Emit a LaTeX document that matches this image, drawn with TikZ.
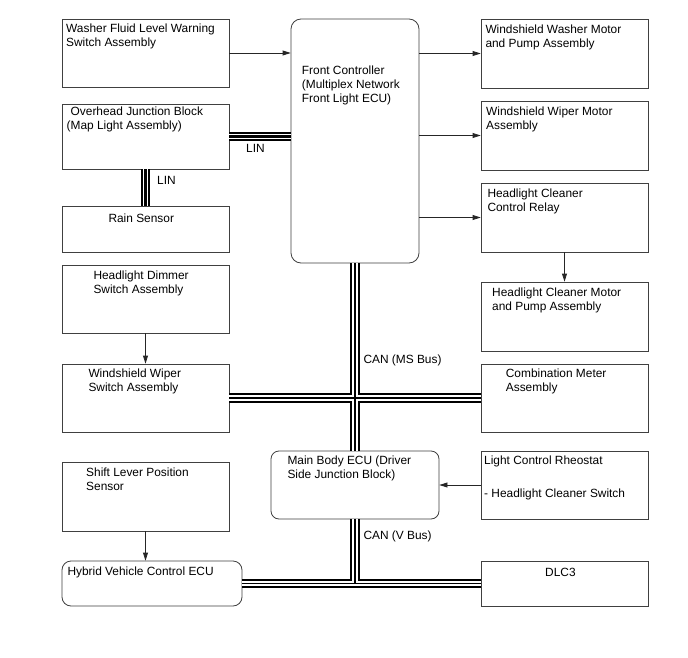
\documentclass[tikz,border=0pt]{standalone}
\usepackage{fontspec}
\setmainfont{Liberation Sans}
\usetikzlibrary{arrows.meta}
\newcommand\mkbox[6]{\node[box,#6,minimum width={(#4-#2)*1pt},minimum height={(#5-#3)*1pt}] (#1) at ({(#2+#4)/2},{(#3+#5)/2}) {};}
\newcommand\canbus[1]{\draw[line width=9.5pt] #1; \draw[white,line width=5.5pt] #1; \draw[line width=1.3pt] #1;}
\newcommand\linbus[1]{\draw[line width=9.5pt] #1; \draw[white,line width=5.5pt] #1; \draw[line width=3pt] #1;}
\begin{document}
\begin{tikzpicture}[x=1pt,y=-1pt,
  box/.style={draw=black!75,line width=0.8pt,inner sep=0pt},
  rbox/.style={rounded corners=#1},
  txt/.style={anchor=north west,inner sep=0pt,align=left,font=\fontsize{11.9}{14}\selectfont},
  arr/.style={draw=black!85,line width=0.8pt,-{Triangle[length=8pt,width=5pt]}}]
\fill[white] (0,0) rectangle (688,658);
\useasboundingbox (0,0) rectangle (688,658);
% boxes
\mkbox{wfl}{62}{19}{229}{87}{}
\mkbox{ojb}{62}{104}{229}{169}{}
\mkbox{rain}{62}{206}{229}{252}{}
\mkbox{dim}{62}{265}{229}{333}{}
\mkbox{wsw}{62}{364}{229}{432}{}
\mkbox{slp}{62}{462}{229}{531}{}
\mkbox{hv}{62}{561}{242}{606}{rbox=9pt}
\mkbox{fc}{291}{19}{419}{263}{rbox=10pt}
\mkbox{wwm}{481}{19}{648}{88}{}
\mkbox{wpm}{481}{101}{648}{170}{}
\mkbox{hcr}{481}{183}{648}{252}{}
\mkbox{hcm}{481}{282}{648}{351}{}
\mkbox{cmb}{481}{364}{648}{432}{}
\mkbox{lcr}{481}{451}{648}{519}{}
\mkbox{dlc}{481}{561}{648}{606}{}
\mkbox{mb}{271}{451}{439}{519}{rbox=8pt}
% texts
\node[txt] (twfl) at (66,22.8) {\strut Washer Fluid Level Warning\\Switch Assembly};
\node[txt] (tojb) at (66.5,105.2) {\strut\hspace*{4pt}Overhead Junction Block\\(Map Light Assembly)};
\node[txt] (train) at (108.3,212.8) {\strut Rain Sensor};
\node[txt] (tdim) at (93.3,269.5) {\strut Headlight Dimmer\\Switch Assembly};
\node[txt] (twsw) at (88.3,367.8) {\strut Windshield Wiper\\Switch Assembly};
\node[txt] (tslp) at (86,466.8) {\strut Shift Lever Position\\Sensor};
\node[txt] (thv) at (67.3,565.2) {\strut Hybrid Vehicle Control ECU};
\node[txt] (tfc) at (301.7,64.5) {\strut Front Controller\\(Multiplex Network\\Front Light ECU)};
\node[txt] (twwm) at (485.3,23.5) {\strut Windshield Washer Motor\\and Pump Assembly};
\node[txt] (twpm) at (486,105.2) {\strut Windshield Wiper Motor\\Assembly};
\node[txt] (thcr) at (487.3,187.8) {\strut Headlight Cleaner\\Control Relay};
\node[txt] (thcm) at (492,286.2) {\strut Headlight Cleaner Motor\\and Pump Assembly};
\node[txt] (tcmb) at (505.7,367.8) {\strut Combination Meter\\Assembly};
\node[txt] (tlcr) at (484,454.5) {\strut Light Control Rheostat\\[18.7pt]- Headlight Cleaner Switch};
\node[txt] (tmb) at (287.3,454.5) {\strut Main Body ECU (Driver\\Side Junction Block)};
\node[txt] (tdlc) at (545,566.2) {\strut DLC3};
\node[txt] (tlin1) at (246,142.8) {\strut LIN};
\node[txt] (tlin2) at (157,174.5) {\strut LIN};
\node[txt] (tcanms) at (363.3,353.5) {\strut CAN (MS Bus)};
\node[txt] (tcanv) at (363.3,529.5) {\strut CAN (V Bus)};
% arrows
\draw[arr] (wfl.east) -- (fc.west |- wfl.east);
\draw[arr] (fc.east |- wwm.west) -- (wwm.west);
\draw[arr] (fc.east |- wpm.west) -- (wpm.west);
\draw[arr] (fc.east |- hcr.west) -- (hcr.west);
\draw[arr] (hcr.south) -- (hcm.north);
\draw[arr] (dim.south) -- (wsw.north);
\draw[arr] (slp.south) -- (slp.south |- hv.north);
\draw[arr] (lcr.west) -- (mb.east);
% buses
\linbus{(ojb.east) -- (fc.west |- ojb.east)}
\linbus{(ojb.south) -- (rain.north)}
\canbus{(fc.south) -- (mb.north) (wsw.east) -- (cmb.west)}
\canbus{(mb.south) -- (mb.south |- hv.east) (hv.east) -- (dlc.west)}
\end{tikzpicture}
\end{document}
